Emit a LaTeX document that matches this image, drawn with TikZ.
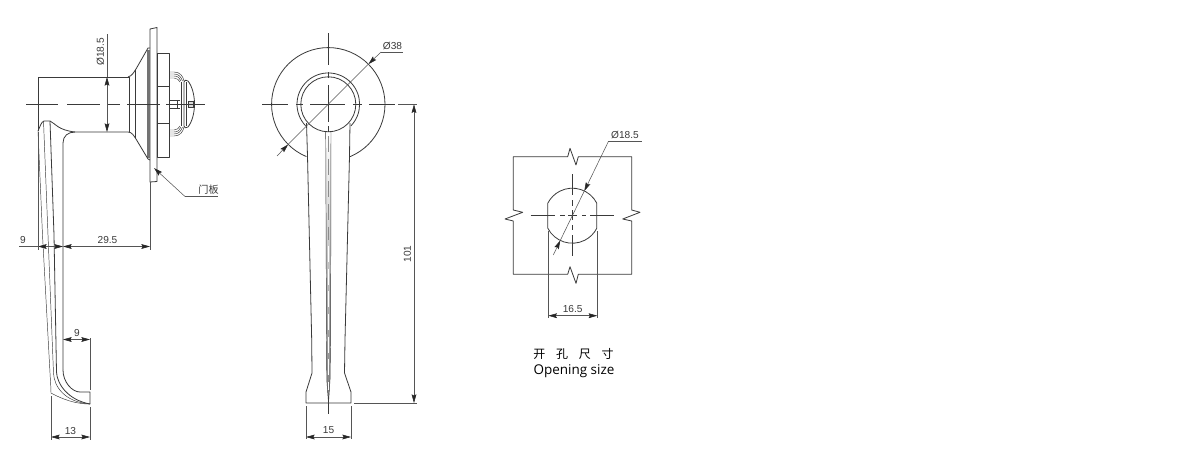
\documentclass[tikz,border=0pt]{standalone}
\usepackage{fontspec}
\setmainfont{Liberation Sans}
\newfontfamily\cjk{Noto Sans CJK SC}
\newfontfamily\capfont{Open Sans}
\usetikzlibrary{arrows.meta}
\definecolor{ink}{HTML}{3A3A3A}
\definecolor{dimink}{HTML}{555555}
\tikzset{
  part/.style={draw=ink,line width=.6pt,line join=round},
  thin part/.style={draw=ink,line width=.35pt},
  axis/.style={draw=ink,line width=.4pt},
  dimline/.style={draw=dimink,line width=.4pt},
  tip/.style={draw=dimink,line width=.4pt,-{Stealth[length=6.5pt,width=3.6pt,inset=1pt,black!85]}},
  dual/.style={draw=dimink,line width=.4pt,{Stealth[length=6.5pt,width=3.6pt,inset=1pt,black!85]}-{Stealth[length=6.5pt,width=3.6pt,inset=1pt,black!85]}},
  lbl/.style={font=\fontsize{7.6pt}{9pt}\selectfont,text=ink,inner sep=0pt},
}
\begin{document}
\begin{tikzpicture}[x=.75pt,y=-.75pt]
\useasboundingbox (0,0) rectangle (1180,450);
\fill[white] (0,0) rectangle (1180,450);

% ---------- LEFT VIEW ----------
% door plate
\draw[part] (150,29) -- (157,27.5) -- (157,181.5) -- (150,182) -- cycle;
% rose
\fill[black!55] (147,50) rectangle (150,158);
\draw[part] (129,77) -- (38,77) -- (38,131);
\draw[part] (128,77) .. controls (132,76) and (134,72) .. (136,69) -- (148,48) -- (150,48);
\draw[part] (63,370) -- (63,143) .. controls (63,136) and (68,132) .. (75,132) -- (128,132)
  .. controls (132,132) and (134,136) .. (136,139) -- (148,159) -- (150,160);
\draw[thin part] (129,77) -- (129,132);
\draw[thin part] (135,70) -- (135,138);
% back housing
\draw[part] (157,53) rectangle (169,157);
\draw[thin part] (157,86) -- (169,86) (157,123) -- (169,123);
% mirrored ribbons and dome
\foreach \s in {1,-1}{
\begin{scope}[shift={(0,104)},yscale=\s]
  \draw[thin part] (169,-32) -- (174,-32) .. controls (180,-32) and (183,-28) .. (184,-23);
  \draw[thin part] (169,-30) -- (174,-30) .. controls (179,-30) and (181,-27) .. (182.5,-23);
  \draw[thin part] (169,-28) -- (174,-28) .. controls (178,-28) and (180,-26) .. (181,-23);
  \draw[thin part] (169,-26) -- (174,-26) .. controls (177,-26) and (179,-24) .. (180,-22);
  \draw[part] (184,0) -- (184,-22) .. controls (184,-24) and (186,-24.5) .. (188,-23) .. controls (192,-18) and (194.5,-9) .. (194.5,0);
  \draw[thin part] (186.5,0) -- (186.5,-22);
  \draw[thin part] (181,0) -- (181,-22);
  \draw[thin part] (169,-4) -- (180,-4);
\end{scope}}
\draw[thin part,fill=black!15] (188,101.5) rectangle (193,107);
\draw[thin part] (177,100) -- (177,108);
% lever
\draw[part] (38,131) .. controls (40,127) and (41,122) .. (44,121) -- (50,121)
  .. controls (56,124) and (58,130) .. (75,132);
\draw[thin part] (38,131) -- (42.5,235) -- (50,373) .. controls (50.5,382) and (51,388) .. (51,393) .. controls (62,399) and (75,404) .. (90,404);
\draw[thin part] (43.5,121) -- (48,235) -- (53.5,373) .. controls (54,386) and (64,402) .. (90,404);
\draw[part] (50,121) -- (54,235) -- (56.5,372) .. controls (57,384) and (68,400) .. (90,404);
\draw[part] (63,370) .. controls (63,382) and (72,392) .. (80,392) -- (90,392) -- (90,404);
% axis
\draw[axis] (26,104) -- (58,104) (67,104) -- (100,104) (107,104) -- (120,104) (127,104) -- (160,104) (166,104) -- (205,104);
% dimension Ø18.5
\coordinate (dTop) at (107,77); \coordinate (dBot) at (107,132); \coordinate (dEnd) at (107,34);
\draw[dual] (dTop) -- (dBot);
\draw[dimline] (dEnd) -- (dTop);
\node[lbl,rotate=90] (lblA) at (100.5,52) {Ø18.5};
% door panel leader
\coordinate (lA) at (154,168); \coordinate (lB) at (185,196.5); \coordinate (lC) at (218,196.5);
\draw[tip] (lB) -- (lA);
\draw[dimline] (lB) -- (lC);
\node[lbl] (lblDoor) at (208.5,190) {\cjk 门板};
% dim 9 / 29.5
\coordinate (x38) at (38,246.5); \coordinate (x63) at (63,246.5); \coordinate (x150) at (150,246.5); \coordinate (x19) at (19,246.5);
\draw[dimline] (x19) -- (x38);
\draw[dual] (x38) -- (x63);
\draw[dual] (x63) -- (x150);
\draw[dimline] (38,132) -- (38,250);
\draw[dimline] (150,182) -- (150,250);
\node[lbl] (lbl9a) at (23,240) {9};
\node[lbl] (lbl295) at (107.5,240) {29.5};
% dim 9 lower
\coordinate (y63) at (63,339.5); \coordinate (y90) at (90,339.5);
\draw[dual] (y63) -- (y90);
\draw[dimline] (90,338) -- (90,390);
\node[lbl] (lbl9b) at (77,333) {9};
% dim 13
\coordinate (z51) at (51,437); \coordinate (z90) at (90,437);
\draw[dual] (z51) -- (z90);
\draw[dimline] (51,396) -- (51,440) (90,407) -- (90,440);
\node[lbl] (lbl13) at (70.5,431) {13};

% ---------- MIDDLE VIEW ----------
\coordinate (mc) at (328.3,104.3);
% circles
\draw[part] (306.4,156.6) arc[start angle=112.7,end angle=427.3,radius=56.7];
\draw[part] (mc) circle[radius=27.5];
\draw[part] (305.6,125.8) arc[start angle=136.5,end angle=403.5,radius=31.3];
% lever outline
\draw[part] (306.5,123) -- (307.5,156) -- (311.7,340) -- (312,373) -- (306,392) -- (306,403) -- (351,403) -- (351,392) -- (344.5,373) -- (345,340) -- (349.5,156) -- (350,123);
% central rib
\draw[thin part,top color=white,bottom color=black!50] (325.7,132) -- (326.5,340) -- (326.8,380) -- (328.5,403) -- (330,380) -- (330.6,340) -- (331,132) -- cycle;
\draw[draw=black!45,line width=.5pt,dash pattern=on 12pt off 5pt] (328.4,136) -- (328.4,240);
\draw[draw=white,line width=.6pt,dash pattern=on 12pt off 5pt] (328.4,246) -- (328.4,390);
\draw[axis] (328.4,403) -- (328.4,414);
% axes
\draw[axis] (262,104.3) -- (288,104.3) (296,104.3) -- (303,104.3) (310,104.3) -- (345,104.3) (353,104.3) -- (362,104.3) (369,104.3) -- (395,104.3);
\draw[axis] (328.3,33) -- (328.3,65) (328.3,72) -- (328.3,78) (328.3,85) -- (328.3,122) (328.3,126) -- (328.3,132);
% Ø38
\coordinate (dA) at (277,156); \coordinate (dB) at (288.2,144.4); \coordinate (dC) at (368.4,64.2); \coordinate (dD) at (381,52); \coordinate (dE) at (403,52);
\draw[tip] (dA) -- (dB);
\draw[tip] (dD) -- (dC);
\draw[dimline] (dB) -- (dC);
\draw[dimline] (dD) -- (dE);
\node[lbl] (lbl38) at (392.5,46) {Ø38};
% 101
\coordinate (hA) at (414,104.3); \coordinate (hB) at (414,403);
\draw[dual] (hA) -- (hB);
\draw[dimline] (398,104.3) -- (417,104.3) (354,403) -- (417,403);
\node[lbl,rotate=90] (lbl101) at (407.5,254) {101};
% 15
\coordinate (wA) at (306,437); \coordinate (wB) at (351,437);
\draw[dual] (wA) -- (wB);
\draw[dimline] (306,406) -- (306,439) (351,406) -- (351,439);
\node[lbl] (lbl15) at (328.5,430) {15};

% ---------- RIGHT VIEW ----------
\draw[part] (513.3,156.7) -- (567.7,156.7) -- (570,148.3) -- (576,165) -- (578.3,156.7) -- (631.7,156.7)
  -- (631.7,210) -- (640,212.3) -- (622.7,219) -- (631.7,221) -- (631.7,274.3)
  -- (578.3,274.3) -- (576,283.3) -- (570,266.7) -- (567.7,274.3) -- (513.3,274.3)
  -- (513.3,221) -- (505,219) -- (522.7,212.3) -- (513.3,210) -- cycle;
% hole
\draw[part] (547.8,203.2) -- (547.8,228.2) arc[start angle=153,end angle=27,radius=27.5] -- (596.8,203.2) arc[start angle=-27,end angle=-153,radius=27.5];
\draw[axis] (530.7,215.7) -- (555,215.7) (560,215.7) -- (565,215.7) (568,215.7) -- (577,215.7) (582,215.7) -- (586,215.7) (590,215.7) -- (614.3,215.7);
\draw[axis] (572.3,174) -- (572.3,195) (572.3,200) -- (572.3,206) (572.3,210) -- (572.3,220) (572.3,225) -- (572.3,230) (572.3,235) -- (572.3,256);
% Ø18.5
\coordinate (rA) at (553.3,255); \coordinate (rB) at (560.3,240.4); \coordinate (rC) at (584.3,191); \coordinate (rD) at (608.3,141.7); \coordinate (rE) at (641.7,141.7);
\draw[tip] (rA) -- (rB);
\draw[tip] (rD) -- (rC);
\draw[dimline] (rB) -- (rC);
\draw[dimline] (rD) -- (rE);
\node[lbl] (lblB) at (625,135.5) {Ø18.5};
% 16.5
\coordinate (oA) at (548.3,315.7); \coordinate (oB) at (597.3,315.7);
\draw[dual] (oA) -- (oB);
\draw[dimline] (548.3,231) -- (548.3,318) (597.3,231) -- (597.3,318);
\node[lbl] (lbl165) at (572.7,309) {16.5};
% captions
\node[inner sep=0pt,text=black] (capA) at (573.5,353.5) {\cjk\fontsize{9pt}{11pt}\selectfont 开\hspace{.9em}孔\hspace{.9em}尺\hspace{.9em}寸};
\node[inner sep=0pt,text=black] (capB) at (574,371.5) {\capfont\fontsize{10.1pt}{12pt}\selectfont Opening size};
\end{tikzpicture}
\end{document}
